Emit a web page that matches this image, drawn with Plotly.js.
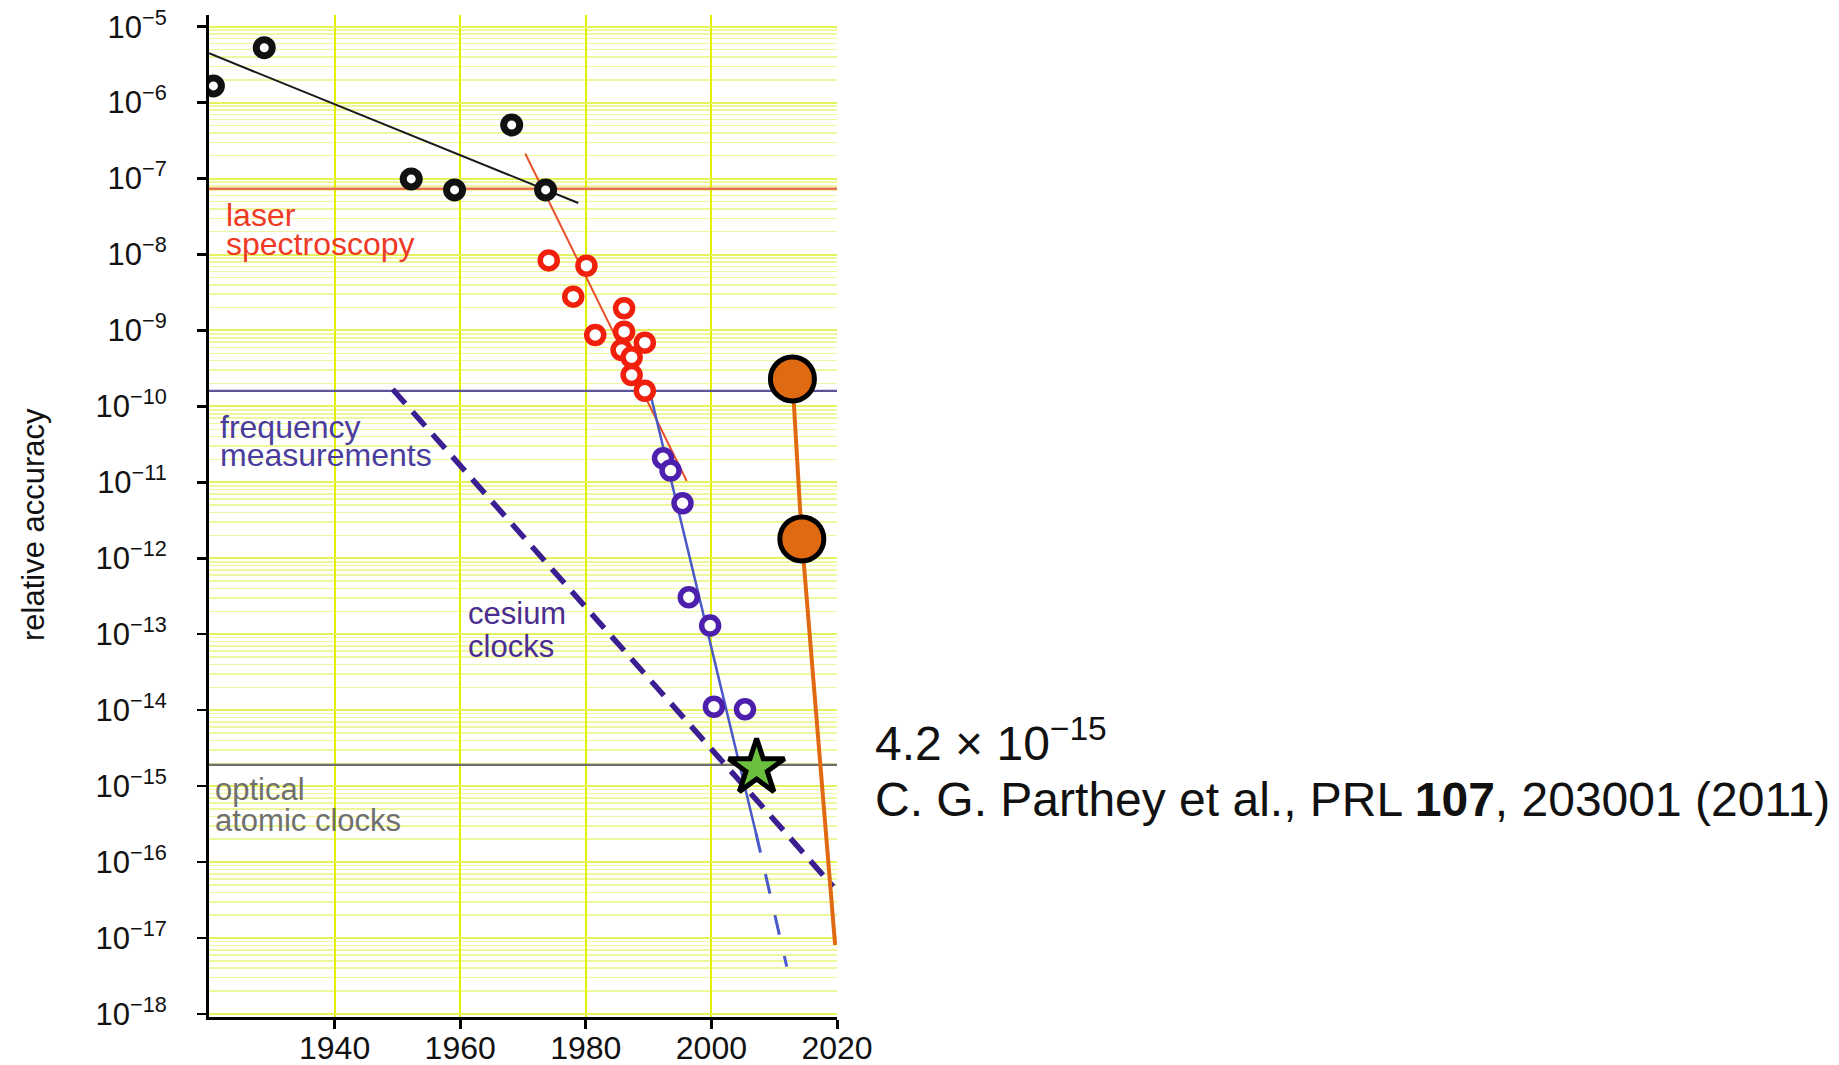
<!DOCTYPE html>
<html>
<head>
<meta charset="utf-8">
<script src="https://cdn.plot.ly/plotly-3.0.1.min.js"></script>
<style>
html, body { margin: 0; padding: 0; background: #ffffff; }
#chart { width: 1839px; height: 1065px; }
</style>
</head>
<body>
<div id="chart"></div>
<script>
// ---------- data ----------
const yearRange = [1920, 2020];
const xTickYears = [1940, 1960, 1980, 2000, 2020];
const yTickExponents = [-5, -6, -7, -8, -9, -10, -11, -12, -13, -14, -15, -16, -17, -18];

// early measurements (black rings) and their trend line
const blackYears = [1920.7, 1928.8, 1952.2, 1959.1, 1968.2, 1973.6];
const blackAcc   = [1.66e-6, 5.29e-6, 9.9e-8, 7.1e-8, 5.08e-7, 7.1e-8];
const blackFitYears = [1920, 1978.8];
const blackFitAcc   = [4.47e-6, 4.77e-8];

// laser spectroscopy (red rings) and trend
const laserLevel = 7.36e-8;
const redYears = [1974.1, 1980.1, 1978.0, 1986.1, 1981.5, 1986.1, 1989.4, 1985.7, 1987.3, 1987.3, 1989.4];
const redAcc   = [8.37e-9, 7.13e-9, 2.79e-9, 1.96e-9, 8.73e-10, 9.64e-10, 6.91e-10, 5.54e-10, 4.44e-10, 2.59e-10, 1.61e-10];
const redFitYears = [1970.35, 1996.07];
const redFitAcc   = [2.14e-7, 1.04e-11];

// frequency measurements (purple rings) and trend
const freqLevel = 1.60e-10;
const blueYears = [1992.3, 1993.5, 1995.4, 1996.4, 1999.8, 2000.4, 2005.35];
const blueAcc   = [2.08e-11, 1.43e-11, 5.31e-12, 3.07e-13, 1.30e-13, 1.11e-14, 1.03e-14];
const blueFitYears = [1990.2, 2007.1];
const blueFitAcc   = [1.56e-10, 2.40e-16];
const blueExtYears = [2007.1, 2012.0];
const blueExtAcc   = [2.40e-16, 4.20e-18];

// cesium clocks trend
const cesiumYears = [1949.25, 2019.4];
const cesiumAcc   = [1.68e-10, 4.75e-17];

// optical atomic clocks
const opticalLevel = 1.90e-15;

// Parthey et al. 2011 (green star)
const starYears = [2007.2];
const starAcc   = [1.74e-15];

// new results (orange) and their trend
const newYears = [2012.9, 2014.4];
const newAcc   = [2.30e-10, 1.80e-12];
const newFitYears = [2012.9, 2014.4, 2019.7];
const newFitAcc   = [2.30e-10, 1.80e-12, 8.1e-18];

// ---------- layout helpers ----------
const W = 1839, H = 1065;
const L = 209, R = 837, T = 15, B = 1017;
const px = x => (x - L) / (R - L);
const py = y => (B - y) / (B - T);

const FONT = 'Liberation Sans, Arial, Helvetica, sans-serif';

const levelLine = (level, color, width) => ({
  type: 'scatter', mode: 'lines',
  x: yearRange, y: [level, level],
  line: { color: color, width: width },
  hoverinfo: 'skip'
});

const rings = (xs, ys, color, size, lw) => ({
  type: 'scatter', mode: 'markers', x: xs, y: ys,
  marker: { symbol: 'circle', size: size, color: '#ffffff', line: { color: color, width: lw } }
});

const traces = [
  levelLine(laserLevel, '#e8704c', 2.5),
  levelLine(freqLevel, '#5a5498', 2.2),
  levelLine(opticalLevel, '#6e6e6e', 2.2),
  { type: 'scatter', mode: 'lines', x: blackFitYears, y: blackFitAcc, line: { color: '#1a1a1a', width: 2 } },
  { type: 'scatter', mode: 'lines', x: redFitYears, y: redFitAcc, line: { color: '#e8502c', width: 2 } },
  { type: 'scatter', mode: 'lines', x: cesiumYears, y: cesiumAcc, line: { color: '#3a1e92', width: 5.5, dash: '19px,11px' } },
  { type: 'scatter', mode: 'lines', x: blueFitYears, y: blueFitAcc, line: { color: '#4a58c8', width: 2.5 } },
  { type: 'scatter', mode: 'lines', x: blueExtYears, y: blueExtAcc, line: { color: '#4a58c8', width: 3, dash: '20px,22px' } },
  rings(blackYears, blackAcc, '#111111', 16, 7),
  rings(redYears, redAcc, '#f0200c', 17, 5.5),
  rings(blueYears, blueAcc, '#4c20ac', 17, 5.5),
  { type: 'scatter', mode: 'lines', x: newFitYears, y: newFitAcc, line: { color: '#e06a12', width: 4 } },
  { type: 'scatter', mode: 'markers', x: newYears, y: newAcc,
    marker: { symbol: 'circle', size: 44, color: '#e06a12', line: { color: '#000000', width: 5 } } },
  { type: 'scatter', mode: 'markers', x: starYears, y: starAcc,
    marker: { symbol: 'star', size: 42, color: '#6cbf3f', line: { color: '#000000', width: 5 } } }
];

const note = (text, x, y, color, size, extra) => Object.assign({
  text: text, xref: 'paper', yref: 'paper', x: px(x), y: py(y),
  xanchor: 'left', yanchor: 'middle', showarrow: false,
  font: { family: FONT, size: size, color: color }
}, extra || {});

const annotations = [
  note('laser', 224, 215, '#ee3a24', 32),
  note('spectroscopy', 224, 244, '#ee3a24', 32),
  note('frequency', 218, 427, '#4a3d9e', 32),
  note('measurements', 218, 455, '#4a3d9e', 32),
  note('cesium', 466, 614, '#4a2d8e', 31),
  note('clocks', 466, 646, '#4a2d8e', 31),
  note('optical', 213, 789, '#707070', 31),
  note('atomic clocks', 213, 820, '#707070', 31),
  note('relative accuracy', 33, 525, '#111111', 31, { xanchor: 'center', textangle: -90 }),
  note('4.2 × 10<sup>−15</sup>', 873, 740, '#111111', 48),
  note('C. G. Parthey et al., PRL <b>107</b>, 203001 (2011)', 873, 799, '#111111', 48)
];

const layout = {
  width: W, height: H,
  paper_bgcolor: '#ffffff', plot_bgcolor: '#ffffff',
  showlegend: false,
  font: { family: FONT, color: '#111111' },
  margin: { l: L, r: W - R, t: T, b: H - B, pad: 0, autoexpand: false },
  xaxis: {
    range: yearRange, autorange: false,
    tickmode: 'array', tickvals: xTickYears, ticktext: xTickYears.map(String),
    showgrid: true, gridcolor: '#e2f000', gridwidth: 2,
    zeroline: false, showline: true, linecolor: '#000000', linewidth: 3,
    ticks: 'outside', ticklen: 9, tickwidth: 3, tickcolor: '#000000',
    tickfont: { family: FONT, size: 32, color: '#111111' },
    ticklabelstandoff: -8
  },
  yaxis: {
    type: 'log', range: [-18.04, -4.846], autorange: false,
    tickmode: 'array',
    tickvals: yTickExponents.map(e => Math.pow(10, e)),
    ticktext: yTickExponents.map(e => '10<sup>−' + Math.abs(e) + '</sup>'),
    showgrid: true, gridcolor: '#e4f25c', gridwidth: 2,
    minor: { tickmode: 'linear', dtick: 'D1', showgrid: true, gridcolor: '#eef79c', gridwidth: 1.5, ticks: '' },
    zeroline: false, showline: true, linecolor: '#000000', linewidth: 3,
    ticks: 'outside', ticklen: 9, tickwidth: 2.5, tickcolor: '#000000',
    tickfont: { family: FONT, size: 31, color: '#111111' },
    ticklabelstandoff: 24
  },
  annotations: annotations
};

Plotly.newPlot('chart', traces, layout, { displayModeBar: false, staticPlot: true });
</script>
</body>
</html>
